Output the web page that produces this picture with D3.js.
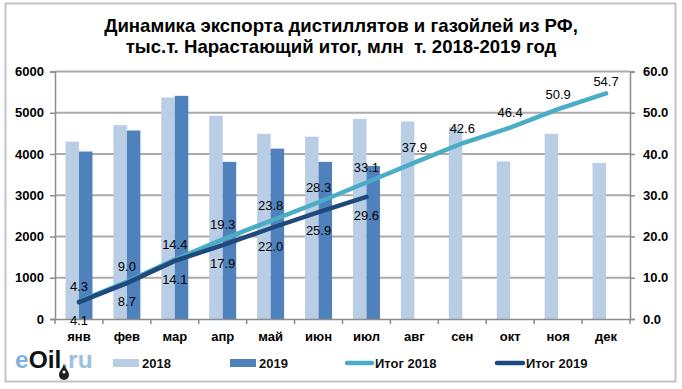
<!DOCTYPE html>
<html>
<head>
<meta charset="utf-8">
<script src="https://cdn.jsdelivr.net/npm/d3@7"></script>
<style>
  html, body { margin: 0; padding: 0; background: #fff; }
  svg { display: block; font-family: "Liberation Sans", Arial, sans-serif; }
</style>
</head>
<body>
<div id="viewport"></div>
<script>
const months = ["янв", "фев", "мар", "апр", "май", "июн", "июл", "авг", "сен", "окт", "ноя", "дек"];
const export2018 = [4300, 4700, 5370, 4930, 4490, 4420, 4850, 4790, 4650, 3820, 4490, 3780];
const export2019 = [4060, 4570, 5410, 3810, 4130, 3810, 3710];
const total2018 = [4.3, 9.0, 14.4, 19.3, 23.8, 28.3, 33.1, 37.9, 42.6, 46.4, 50.9, 54.7];
const total2019 = [4.1, 8.7, 14.1, 17.9, 22.0, 25.9, 29.6];
const leftTicks = [0, 1000, 2000, 3000, 4000, 5000, 6000];
const rightTicks = [0, 10, 20, 30, 40, 50, 60];
const titleLines = ["Динамика экспорта дистиллятов и газойлей из РФ,", "тыс.т. Нарастающий итог, млн  т. 2018-2019 год"];

const width = 682, height = 389;
const margin = {top: 71.5, right: 52, bottom: 70, left: 55};
const c2018 = "#b9cde5", c2019 = "#4f81bd", cLine2018 = "#4bacc6", cLine2019 = "#1f497d", grid = "#ababab";

const svg = d3.select("#viewport").append("svg").attr("width", width).attr("height", height);

svg.append("rect").attr("x", 5.5).attr("y", 3.5).attr("width", 670).attr("height", 378)
  .attr("fill", "#fff").attr("stroke", "#c4c4c4").attr("stroke-width", 2);

var x = d3.scaleBand().domain(months).range([margin.left, width - margin.right]);
var xBar = d3.scaleBand().domain(["2018", "2019"]).range([0, 27]);
var yLeft = d3.scaleLinear().domain([0, 6000]).range([height - margin.bottom, margin.top]);
var yRight = d3.scaleLinear().domain([0, 60]).range([height - margin.bottom, margin.top]);
const bottom = height - margin.bottom;
const cx = d => x(d) + x.bandwidth() / 2;

// title
svg.append("g").selectAll("text").data(titleLines).enter().append("text")
  .attr("x", 341).attr("y", (d, i) => 32 + i * 21)
  .attr("text-anchor", "middle").attr("font-size", 18.6).attr("font-weight", "bold").attr("fill", "#000")
  .style("white-space", "pre")
  .text(d => d);

// gridlines
svg.append("g").selectAll("line").data(leftTicks.slice(1)).enter().append("line")
  .attr("x1", margin.left).attr("x2", width - margin.right)
  .attr("y1", d => yLeft(d)).attr("y2", d => yLeft(d))
  .attr("stroke", grid).attr("stroke-width", 2);

// bars
const barOffset = (x.bandwidth() - 27) / 2;
svg.append("g").selectAll("rect").data(export2018).enter().append("rect")
  .attr("x", (d, i) => x(months[i]) + barOffset + xBar("2018"))
  .attr("width", xBar.bandwidth()).attr("y", d => yLeft(d)).attr("height", d => bottom - yLeft(d))
  .attr("fill", c2018);
svg.append("g").selectAll("rect").data(export2019).enter().append("rect")
  .attr("x", (d, i) => x(months[i]) + barOffset + xBar("2019"))
  .attr("width", xBar.bandwidth()).attr("y", d => yLeft(d)).attr("height", d => bottom - yLeft(d))
  .attr("fill", c2019);

// axes
var axisLeft = d3.axisLeft(yLeft).tickValues(leftTicks).tickSize(5).tickPadding(6).tickFormat(d3.format("d"));
var axisRight = d3.axisRight(yRight).tickValues(rightTicks).tickSize(5).tickPadding(8).tickFormat(d3.format(".1f"));
var axisBottom = d3.axisBottom(x).tickValues([]).tickSizeOuter(0);

const gLeft = svg.append("g").attr("transform", "translate(" + margin.left + ",0)").call(axisLeft);
const gRight = svg.append("g").attr("transform", "translate(" + (width - margin.right) + ",0)").call(axisRight);
const gBottom = svg.append("g").attr("transform", "translate(0," + bottom + ")").call(axisBottom);
[gLeft, gRight, gBottom].forEach(g => {
  g.selectAll("path, line").attr("stroke", "#8c8c8c").attr("stroke-width", 1.5);
  g.selectAll("text").attr("font-size", 13).attr("font-weight", "bold").attr("fill", "#000").attr("font-family", "inherit");
});

// month separators and labels
svg.append("g").selectAll("line").data(months.concat("end")).enter().append("line")
  .attr("x1", (d, i) => i < 12 ? x(d) : width - margin.right)
  .attr("x2", (d, i) => i < 12 ? x(d) : width - margin.right)
  .attr("y1", bottom).attr("y2", bottom + 5)
  .attr("stroke", "#8c8c8c").attr("stroke-width", 1.5);
svg.append("g").selectAll("text").data(months).enter().append("text")
  .attr("x", cx).attr("y", bottom + 22).attr("text-anchor", "middle")
  .attr("font-size", 13).attr("font-weight", "bold").attr("fill", "#000")
  .text(d => d);

// cumulative lines
var line = d3.line().x((d, i) => cx(months[i])).y(d => yRight(d));
svg.append("path").datum(total2018).attr("d", line).attr("fill", "none")
  .attr("stroke", cLine2018).attr("stroke-width", 4.5).attr("stroke-linecap", "round");
svg.append("path").datum(total2019).attr("d", line).attr("fill", "none")
  .attr("stroke", cLine2019).attr("stroke-width", 4.5).attr("stroke-linecap", "round");

// data labels
svg.append("g").selectAll("text").data(total2018).enter().append("text")
  .attr("x", (d, i) => cx(months[i])).attr("y", d => Math.max(yRight(d) - 10.5, margin.top + 14.5))
  .attr("text-anchor", "middle").attr("font-size", 13).attr("fill", "#000")
  .text(d => d.toFixed(1));
svg.append("g").selectAll("text").data(total2019).enter().append("text")
  .attr("x", (d, i) => cx(months[i])).attr("y", d => yRight(d) + 23)
  .attr("text-anchor", "middle").attr("font-size", 13).attr("fill", "#000")
  .text(d => d.toFixed(1));

// legend
const legendItems = [
  {label: "2018", color: c2018, x0: 113, x1: 139, tx: 142, h: 8, cap: "butt"},
  {label: "2019", color: c2019, x0: 230, x1: 256, tx: 259, h: 8, cap: "butt"},
  {label: "Итог 2018", color: cLine2018, x0: 347, x1: 372, tx: 375, h: 4.5, cap: "round"},
  {label: "Итог 2019", color: cLine2019, x0: 497, x1: 523, tx: 526, h: 4.5, cap: "round"}
];
const legend = svg.append("g").selectAll("g").data(legendItems).enter().append("g");
legend.append("line").attr("x1", d => d.x0).attr("x2", d => d.x1).attr("y1", 363).attr("y2", 363)
  .attr("stroke", d => d.color).attr("stroke-width", d => d.h).attr("stroke-linecap", d => d.cap);
legend.append("text").attr("x", d => d.tx).attr("y", 368).attr("font-size", 13).attr("font-weight", "bold").attr("fill", "#111")
  .text(d => d.label);

// logo
const logo = svg.append("text").attr("x", 15).attr("y", 368).attr("font-size", 24.5).attr("font-weight", "bold");
logo.append("tspan").attr("fill", "#7fb2e0").text("e");
logo.append("tspan").attr("fill", "#111").text("Oil");
logo.append("tspan").attr("fill", "#9dc0de").text(".ru");
svg.append("path").attr("d", "M64,364 C62.5,369 59,371 59,375 A5,5 0 0 0 69,375 C69,371 65.5,369 64,364 Z").attr("fill", "#222");
svg.append("circle").attr("cx", 64).attr("cy", 372).attr("r", 1.5).attr("fill", "#fff");
</script>
</body>
</html>
